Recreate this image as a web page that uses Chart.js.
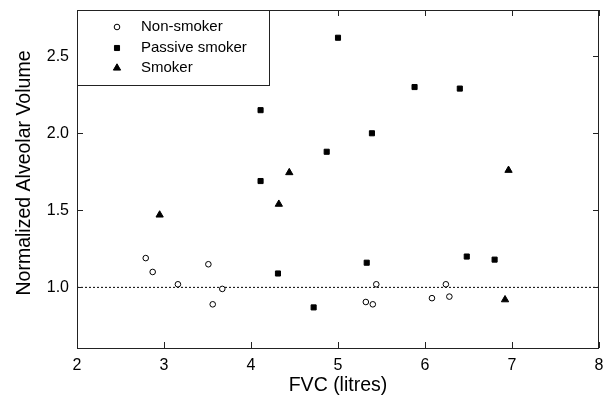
<!DOCTYPE html>
<html>
<head>
<meta charset="utf-8">
<script src="https://cdn.jsdelivr.net/npm/chart.js@4/dist/chart.umd.min.js"></script>
<style>
  html, body { margin: 0; padding: 0; background: #fff; }
</style>
</head>
<body>
<canvas id="scatter" width="607" height="398"></canvas>
<script>
// values
const nonSmokerFvc = [2.79, 2.87, 3.16, 3.51, 3.56, 3.67, 5.32, 5.40, 5.44, 6.08, 6.24, 6.28];
const nonSmokerVol = [1.19, 1.10, 1.02, 1.15, 0.89, 0.99, 0.905, 0.89, 1.02, 0.93, 1.02, 0.94];

const passiveFvc = [4.11, 4.11, 4.31, 4.72, 4.87, 5.00, 5.33, 5.39, 5.88, 6.40, 6.48, 6.80];
const passiveVol = [2.15, 1.69, 1.09, 0.87, 1.88, 2.62, 1.16, 2.00, 2.30, 2.29, 1.20, 1.18];

const smokerFvc = [2.95, 4.32, 4.44, 6.92, 6.96];
const smokerVol = [1.47, 1.54, 1.745, 0.92, 1.76];

const xTicks = [2, 3, 4, 5, 6, 7, 8];
const yTicks = [1.0, 1.5, 2.0, 2.5];
const refLine = [{x: 2, y: 1.0}, {x: 8, y: 1.0}];

const legendNames = ['Non-smoker', 'Passive smoker', 'Smoker'];
const yTitle = 'Normalized Alveolar Volume';

const toPoints = (xs, ys) => xs.map((x, i) => ({x: x, y: ys[i]}));

const axisColor = '#222';
const fontFamily = '"Liberation Sans", Arial, sans-serif';

// box around the plot, inward ticks on all four sides, legend box, y title
const framePlugin = {
  id: 'frame',
  afterDraw(chart) {
    const {ctx, chartArea: a, scales} = chart;
    const L = Math.round(a.left), R = Math.round(a.right) - 1;
    const T = Math.round(a.top), B = Math.round(a.bottom) - 1;
    const tl = 6;
    ctx.save();
    ctx.fillStyle = axisColor;
    // frame
    ctx.fillRect(L, T, R - L + 1, 1);
    ctx.fillRect(L, B, R - L + 1, 1);
    ctx.fillRect(L, T, 1, B - T + 1);
    ctx.fillRect(R, T, 1, B - T + 1);
    // inward ticks
    xTicks.forEach(v => {
      const px = Math.round(scales.x.getPixelForValue(v));
      ctx.fillRect(px, B - tl, 1, tl);
      ctx.fillRect(px, T, 1, tl);
    });
    yTicks.forEach(v => {
      const py = Math.round(scales.y.getPixelForValue(v));
      ctx.fillRect(L, py, tl, 1);
      ctx.fillRect(R - tl + 1, py, tl, 1);
    });

    // legend
    const bw = 192, bh = 75;
    ctx.fillStyle = '#fff';
    ctx.fillRect(L + 1, T + 1, bw - 1, bh - 1);
    ctx.fillStyle = axisColor;
    ctx.fillRect(L, T + bh, bw, 1);
    ctx.fillRect(L + bw, T, 1, bh + 1);
    ctx.font = '15px ' + fontFamily;
    ctx.textBaseline = 'middle';
    ctx.textAlign = 'left';
    const rows = [T + 17, T + 38, T + 58];
    chart.data.datasets.slice(0, 3).forEach((ds, i) => {
      const y = rows[i];
      ctx.fillStyle = ds.backgroundColor;
      ctx.strokeStyle = ds.borderColor;
      ctx.lineWidth = ds.borderWidth;
      Chart.helpers.drawPoint(ctx, {pointStyle: ds.pointStyle, radius: ds.pointRadius, borderWidth: ds.borderWidth}, 117, y);
      ctx.fillStyle = '#000';
      ctx.fillText(legendNames[i], 141, y);
    });

    // y axis title
    ctx.translate(25, 173);
    ctx.rotate(-Math.PI / 2);
    ctx.font = '19.5px ' + fontFamily;
    ctx.textAlign = 'center';
    ctx.fillStyle = '#000';
    ctx.fillText(yTitle, 0, 0);
    ctx.restore();
  }
};

new Chart(document.getElementById('scatter').getContext('2d'), {
  type: 'scatter',
  data: {
    datasets: [
      {
        label: legendNames[0],
        data: toPoints(nonSmokerFvc, nonSmokerVol),
        pointStyle: 'circle',
        pointRadius: 2.8,
        backgroundColor: '#fff',
        borderColor: '#000',
        borderWidth: 1
      },
      {
        label: legendNames[1],
        data: toPoints(passiveFvc, passiveVol),
        pointStyle: 'rect',
        pointRadius: 3.6,
        backgroundColor: '#000',
        borderColor: '#000',
        borderWidth: 1
      },
      {
        label: legendNames[2],
        data: toPoints(smokerFvc, smokerVol),
        pointStyle: 'triangle',
        pointRadius: 4.2,
        backgroundColor: '#000',
        borderColor: '#000',
        borderWidth: 1
      },
      {
        label: 'ref',
        type: 'line',
        data: refLine,
        borderColor: '#000',
        borderWidth: 1,
        borderDash: [2, 2],
        pointRadius: 0,
        fill: false
      }
    ]
  },
  options: {
    responsive: false,
    animation: false,
    layout: { padding: { top: 10, right: 8, left: 0, bottom: 0 } },
    scales: {
      x: {
        type: 'linear',
        min: 2,
        max: 8,
        grid: { display: false, drawTicks: false },
        border: { display: false },
        afterBuildTicks: s => { s.ticks = xTicks.map(v => ({value: v})); },
        afterFit: s => { s.height = 49; s.paddingLeft = 0; s.paddingRight = 0; },
        ticks: {
          padding: 7,
          color: '#000',
          font: { family: fontFamily, size: 16 },
          callback: v => String(v)
        },
        title: {
          display: true,
          text: 'FVC (litres)',
          color: '#000',
          font: { family: fontFamily, size: 19.5 },
          padding: { top: 0, bottom: 1 }
        }
      },
      y: {
        type: 'linear',
        min: 0.6,
        max: 2.8,
        grid: { display: false, drawTicks: false },
        border: { display: false },
        afterBuildTicks: s => { s.ticks = yTicks.map(v => ({value: v})); },
        afterFit: s => { s.width = 77; s.paddingTop = 0; s.paddingBottom = 0; },
        ticks: {
          padding: 8,
          color: '#000',
          font: { family: fontFamily, size: 16 },
          callback: v => Number(v).toFixed(1)
        }
      }
    },
    plugins: {
      legend: { display: false },
      tooltip: { enabled: false }
    }
  },
  plugins: [framePlugin]
});
</script>
</body>
</html>
